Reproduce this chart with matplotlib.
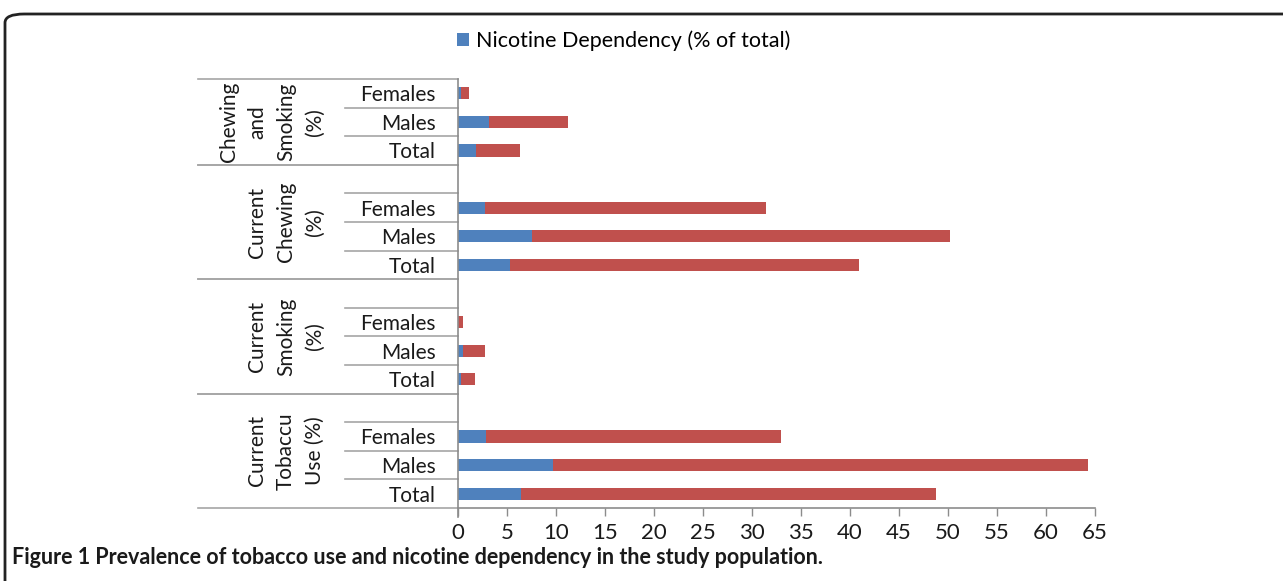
import matplotlib
matplotlib.use("Agg")
import matplotlib.pyplot as plt
from matplotlib.patches import FancyBboxPatch
import numpy as np

# ---- data ----
groups = ["Current\nTobaccu\nUse (%)", "Current\nSmoking\n(%)", "Current\nChewing\n(%)", "Chewing\nand\nSmoking\n(%)"]
subcats = ["Total", "Males", "Females"]
# nicotine dependency (blue) per group, order Total, Males, Females
dependency = [[6.4, 9.7, 2.9],
              [0.3, 0.5, 0.0],
              [5.3, 7.5, 2.8],
              [1.8, 3.2, 0.3]]
# total prevalence (end of the bar)
prevalence = [[48.8, 64.3, 33.0],
              [1.7, 2.8, 0.5],
              [40.9, 50.2, 31.4],
              [6.3, 11.2, 1.1]]
xticks = list(range(0, 70, 5))
legend_label = "Nicotine Dependency (% of total)"
caption_bold = "Figure 1"
caption_rest = " Prevalence of tobacco use and nicotine dependency in the study population."

BLUE = "#4F81BD"
RED = "#C0504D"
GRAY = "#8C8C8C"
LFONT = ["Lato", "DejaVu Sans"]

W, H = 1283, 581
fig = plt.figure(figsize=(W / 100, H / 100), dpi=100)
ax = fig.add_axes([458 / W, 1 - 508 / H, 637 / W, 429 / H])

# build positions: groups from bottom, empty slot above each group except the top one
pos, blues, reds, labels = [], [], [], []
group_ranges = []
y = 0
for gi, g in enumerate(groups):
    start = y
    for si, s in enumerate(subcats):
        pos.append(y)
        blues.append(dependency[gi][si])
        reds.append(prevalence[gi][si] - dependency[gi][si])
        labels.append(s)
        y += 1
    if gi < len(groups) - 1:
        y += 1  # empty slot
    group_ranges.append((start, y))
n_slots = y

bh = 0.42
b1 = ax.barh(pos, blues, height=bh, color=BLUE, edgecolor="none", label=legend_label)
ax.barh(pos, reds, left=blues, height=bh, color=RED, edgecolor="none")

ax.set_xlim(0, 65)
ax.set_ylim(-0.5, n_slots - 0.5)
ax.set_xticks(xticks)
ax.set_xticklabels([str(t) for t in xticks], fontsize=16, family=LFONT, color="#1a1a1a")
ax.tick_params(axis="x", direction="out", length=6, width=1, color=GRAY, pad=5)
ax.set_yticks(pos)
ax.set_yticklabels(labels, fontsize=15, family=LFONT, color="#1a1a1a")
ax.tick_params(axis="y", length=0, pad=16)
for s in ["top", "right"]:
    ax.spines[s].set_visible(False)
for s in ["left", "bottom"]:
    ax.spines[s].set_color(GRAY)
    ax.spines[s].set_linewidth(1.2)
ax.spines["left"].set_bounds(-0.8, n_slots - 0.5)

tr = ax.get_yaxis_transform()
x_group = (198 - 458) / 637
x_sub = (345 - 458) / 637
lc = "#A6A6A6"
for gi, (a, b) in enumerate(group_ranges):
    for yy in (a - 0.5, b - 0.5):
        ax.plot([x_group, 0], [yy, yy], transform=tr, color=lc, lw=1.2, clip_on=False)
    for k in range(a, b - 1):
        yy = k + 0.5
        ax.plot([x_sub, 0], [yy, yy], transform=tr, color=lc, lw=1.2, clip_on=False)
    ycen = (a - 0.5 + b - 0.5) / 2
    ax.text((325 - 458) / 637, ycen, groups[gi], transform=tr,
            rotation=90, ha="right", va="center", multialignment="center",
            fontsize=15, family=LFONT, color="#1a1a1a", linespacing=1.55)

# legend
fig.legend(handles=[b1], labels=[legend_label], loc="center",
           bbox_to_anchor=(624 / W, 1 - 41 / H), frameon=False,
           prop={"family": LFONT, "size": 15.5}, handlelength=0.55, handleheight=0.55,
           handletextpad=0.35)

# frame
frame = FancyBboxPatch((5 / W, -0.1), 1.2, (1 - 14 / H) + 0.1,
                       boxstyle="round,pad=0,rounding_size=0.015",
                       transform=fig.transFigure, fill=False, edgecolor="#222222",
                       lw=2, clip_on=False)
fig.patches.append(frame)

# caption
t1 = fig.text(12 / W, 1 - 557 / H, caption_bold, fontsize=15.5, fontweight="bold",
              family=LFONT, va="center", ha="left", color="#1a1a1a")
fig.canvas.draw()
bb = t1.get_window_extent(renderer=fig.canvas.get_renderer())
fig.text(bb.x1 / W, 1 - 557 / H, caption_rest, fontsize=15.5, fontweight="bold",
         family=LFONT, va="center", ha="left", color="#1a1a1a")

fig.savefig("out.png", dpi=100)
